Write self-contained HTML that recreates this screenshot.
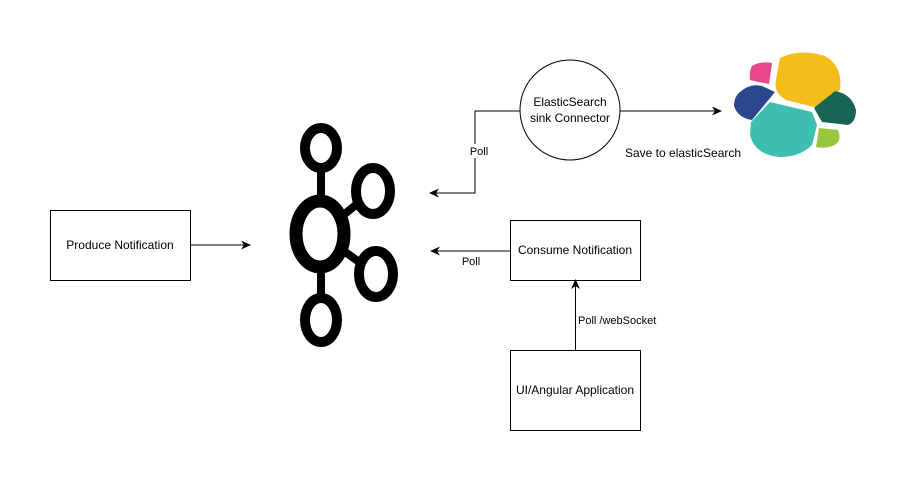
<!DOCTYPE html>
<html><head><meta charset="utf-8"><style>
html,body{margin:0;padding:0;background:#fff;}
svg text{font-family:"Liberation Sans",Arial,sans-serif;fill:#000;}
</style></head><body>
<svg width="911" height="481" viewBox="0 0 911 481" xmlns="http://www.w3.org/2000/svg">
<defs>
<marker id="a" markerWidth="10" markerHeight="10" refX="9" refY="5" orient="auto" markerUnits="userSpaceOnUse">
<path d="M0,0.5 L10,5 L0,9.5 L3,5 Z" fill="#000"/></marker>
</defs>
<!-- Produce -->
<rect x="50.5" y="210.5" width="140" height="70" fill="#fff" stroke="#000"/>
<text x="120" y="249" font-size="12" text-anchor="middle">Produce Notification</text>
<line x1="190" y1="245" x2="250" y2="245" stroke="#000" marker-end="url(#a)"/>
<!-- Kafka logo -->
<g fill="none" stroke="#000">
<line x1="321" y1="170" x2="321" y2="300" stroke-width="8"/>
<line x1="320" y1="234" x2="373" y2="191" stroke-width="8"/>
<line x1="320" y1="234" x2="376" y2="274" stroke-width="8"/>
<ellipse cx="321" cy="148" rx="16" ry="20" stroke-width="10" fill="#fff"/>
<ellipse cx="320" cy="234" rx="24" ry="33" stroke-width="13" fill="#fff"/>
<ellipse cx="373" cy="191" rx="17" ry="23" stroke-width="10" fill="#fff"/>
<ellipse cx="376" cy="274" rx="17" ry="23" stroke-width="10" fill="#fff"/>
<ellipse cx="321" cy="320" rx="16" ry="22" stroke-width="10" fill="#fff"/>
</g>
<!-- Elastic sink -->
<circle cx="570" cy="110" r="50" fill="#fff" stroke="#000"/>
<text x="570" y="106" font-size="12" text-anchor="middle">ElasticSearch</text>
<text x="570" y="122" font-size="12" text-anchor="middle">sink Connector</text>
<polyline points="520,111 475,111 475,193 430,193" fill="none" stroke="#000" marker-end="url(#a)"/>
<rect x="466" y="144" width="20" height="14" fill="#fff"/>
<text x="479" y="155" font-size="11" text-anchor="middle">Poll</text>
<line x1="620" y1="111" x2="721" y2="111" stroke="#000" marker-end="url(#a)"/>
<text x="625" y="157" font-size="12">Save to elasticSearch</text>
<!-- Consume -->
<rect x="510.5" y="220.5" width="130" height="60" fill="#fff" stroke="#000"/>
<text x="575" y="254" font-size="12" text-anchor="middle">Consume Notification</text>
<line x1="510" y1="251" x2="431" y2="251" stroke="#000" marker-end="url(#a)"/>
<text x="471" y="265" font-size="11" text-anchor="middle">Poll</text>
<!-- UI -->
<rect x="510.5" y="350.5" width="130" height="80" fill="#fff" stroke="#000"/>
<text x="575" y="394" font-size="12" text-anchor="middle">UI/Angular Application</text>
<line x1="575.5" y1="350" x2="575.5" y2="280" stroke="#000" marker-end="url(#a)"/>
<text x="578" y="324" font-size="11">Poll  /webSocket</text>
<!-- Elastic logo -->
<path d="M752,66 Q760,61 772,63 L769,84 Q758,82 750,80 Q749,71 752,66Z" fill="#e8488b"/>
<path d="M780,58 Q800,48 825,56 Q843,66 840,90 L818,108 L786,100 Q773,92 776,80Z" fill="#f4bd19"/>
<path d="M740,92 Q750,83 762,86 L775,92 L752,120 Q738,118 734,106 Q734,97 740,92Z" fill="#2c458f"/>
<path d="M814,108 L835,91 Q852,94 856,110 Q856,122 848,125 L822,122Z" fill="#176655"/>
<path d="M770,102 L812,112 L817,125 L812,145 Q800,157 780,157 Q755,155 750,135 L751,122Z" fill="#3ebeb0"/>
<path d="M819,128 L838,130 Q842,140 835,145 Q826,149 816,147Z" fill="#98c73d"/>
</svg>
</body></html>
